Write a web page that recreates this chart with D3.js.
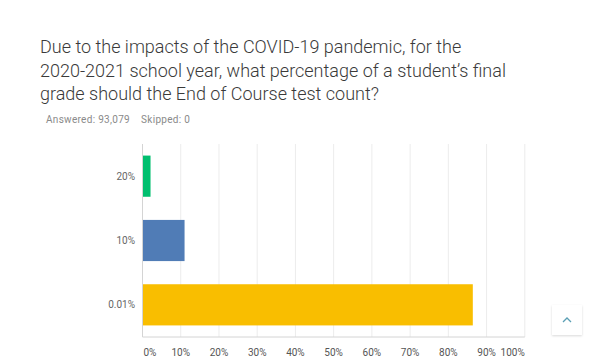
<!DOCTYPE html>
<html><head><meta charset="utf-8">
<script src="https://cdn.jsdelivr.net/npm/d3@7"></script>
<style>body{margin:0;background:#fff;} svg{display:block;}</style>
</head><body>
<script>
const categories = ["20%", "10%", "0.01%"];
const values = [2.1, 11.0, 86.4];
const colors = ["#00bf6f", "#507cb6", "#f9be00"];
const ticks = [0,10,20,30,40,50,60,70,80,90,100];
const titleLines = ["Due to the impacts of the COVID-19 pandemic, for the",
  "2020-2021 school year, what percentage of a student\u2019s final",
  "grade should the End of Course test count?"];
const answeredText = "Answered: 93,079";
const skippedText = "Skipped: 0";

const W = 600, H = 360;
const svg = d3.select("body").append("svg").attr("width", W).attr("height", H);
const defs = svg.append("defs");
const f = defs.append("filter").attr("id","sh").attr("x","-30%").attr("y","-30%").attr("width","160%").attr("height","160%");
f.append("feDropShadow").attr("dx",0).attr("dy",1).attr("stdDeviation",1.2).attr("flood-color","#000").attr("flood-opacity",0.15);

// title
const t = svg.append("text").attr("font-family","Roboto, sans-serif").attr("font-weight",300)
  .attr("font-size",18).attr("fill","#3a3a3a");
titleLines.forEach((l,i)=>t.append("tspan").attr("x",40).attr("y",53+i*23.5).text(l));
const meta = svg.append("g").attr("font-family","Roboto, sans-serif").attr("font-size",10)
  .attr("fill","#8a8a8a");
const ans = meta.append("text").attr("x",46).attr("y",123).style("letter-spacing","0.3px").text(answeredText);
const aw = ans.node().getComputedTextLength();
meta.append("text").attr("x",46 + aw + 11).attr("y",123).style("letter-spacing","0.3px").text(skippedText);

const x = d3.scaleLinear().domain([0,100]).range([142.5, 524.8]);
const y = d3.scaleBand().domain(categories).range([144, 337]).paddingInner(0.36).paddingOuter(0.18);

// gridlines
svg.append("g").selectAll("line").data(ticks.filter(d=>d>0)).join("line")
  .attr("x1",d=>x(d)).attr("x2",d=>x(d)).attr("y1",144).attr("y2",337)
  .attr("stroke","#ececec").attr("stroke-width",1);

// bars
svg.append("g").selectAll("rect").data(categories).join("rect")
  .attr("x", x(0)).attr("y", d=>y(d)).attr("height", y.bandwidth())
  .attr("width", (d,i)=>x(values[i])-x(0)).attr("fill",(d,i)=>colors[i]);

// axes lines
svg.append("line").attr("x1",x(0)).attr("x2",x(0)).attr("y1",144).attr("y2",337).attr("stroke","#d4d4d4");
svg.append("line").attr("x1",x(0)).attr("x2",x(100)).attr("y1",337).attr("y2",337).attr("stroke","#d4d4d4");

// x tick labels
svg.append("g").attr("font-family","Roboto, sans-serif").attr("font-size",10).attr("fill","#555")
  .selectAll("text").data(ticks).join("text")
  .attr("x", d=> d===0 ? x(0)+1 : d===100 ? x(100) : x(d))
  .attr("y", 356)
  .attr("text-anchor", d=> d===0 ? "start" : d===100 ? "end" : "middle")
  .text(d=>d+"%");

// category labels
svg.append("g").attr("font-family","Roboto, sans-serif").attr("font-size",10).attr("fill","#666")
  .selectAll("text").data(categories).join("text")
  .attr("x",135).attr("y",d=>y(d)+y.bandwidth()/2).attr("dy","0.35em")
  .attr("text-anchor","end").text(d=>d);

// scroll-to-top button
svg.append("rect").attr("x",552).attr("y",305).attr("width",30).attr("height",30)
  .attr("fill","#fff").attr("filter","url(#sh)");
svg.append("path").attr("d","M563,322 L567,318 L571,322").attr("fill","none")
  .attr("stroke","#5b9fb5").attr("stroke-width",1.3);
</script>
</body></html>
